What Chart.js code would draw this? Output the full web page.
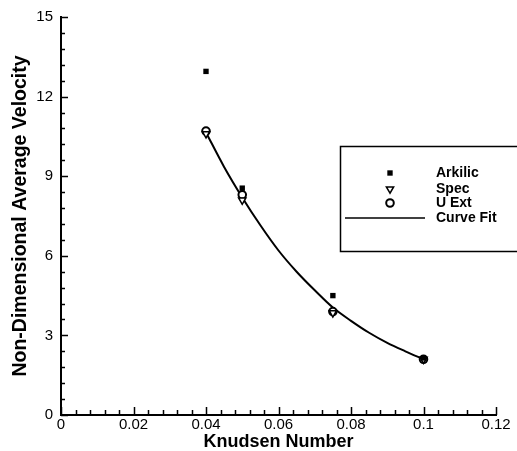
<!DOCTYPE html>
<html>
<head>
<meta charset="utf-8">
<script src="https://cdn.jsdelivr.net/npm/chart.js@4/dist/chart.umd.min.js"></script>
<style>
  html, body { margin: 0; padding: 0; background: #fff; }
  #wrap { width: 517px; height: 451px; }
</style>
</head>
<body>
<div id="wrap"><canvas id="c" width="517" height="451"></canvas></div>
<script>
// Knudsen numbers of the simulated cases
const knudsen = [0.04, 0.05, 0.075, 0.1];
// Non-dimensional average velocity per model
const arkilic = [12.95, 8.55, 4.5, 2.15];
const spec = [10.6, 8.1, 3.85, 2.1];
const uExt = [10.7, 8.3, 3.9, 2.1];
// Curve fit through the computed velocities
const fitKn = [0.04, 0.045, 0.05, 0.055, 0.06, 0.065, 0.07, 0.075, 0.08, 0.085, 0.09, 0.095, 0.1];
const fitVel = [10.65, 9.35, 8.2, 7.15, 6.2, 5.4, 4.7, 4.05, 3.55, 3.1, 2.72, 2.4, 2.1];
// Axis ticks
const xTicks = [0, 0.02, 0.04, 0.06, 0.08, 0.1, 0.12];
const yTicks = [0, 3, 6, 9, 12, 15];
const legendLabels = ['Arkilic', 'Spec', 'U Ext', 'Curve Fit'];

const FONT = '"Liberation Sans", Arial, Helvetica, sans-serif';
const pairs = (xs, ys) => xs.map((x, i) => ({ x, y: ys[i] }));

// Inward major/minor tick marks on the left and bottom axes
const innerTicks = {
  id: 'innerTicks',
  afterDraw(chart) {
    const { ctx, scales: { x, y } } = chart;
    ctx.save();
    ctx.strokeStyle = '#000';
    ctx.lineWidth = 1.5;
    ctx.beginPath();
    for (let i = 0; i <= 30; i++) {
      const px = Math.round(x.getPixelForValue(i * 0.004)) + 0.5;
      const len = i % 5 === 0 ? 8 : 5;
      ctx.moveTo(px, y.bottom);
      ctx.lineTo(px, y.bottom - len);
    }
    for (let i = 0; i <= 25; i++) {
      const py = Math.round(y.getPixelForValue(i * 0.6)) + 0.5;
      const len = i % 5 === 0 ? 7 : 4;
      ctx.moveTo(x.left, py);
      ctx.lineTo(x.left + len, py);
    }
    ctx.stroke();
    ctx.restore();
  }
};

// Boxed legend in the upper right of the plot
const boxLegend = {
  id: 'boxLegend',
  afterDraw(chart) {
    const { ctx } = chart;
    const left = 340, top = 146, bottom = 251;
    const mx = 390, tx = 436;
    const rows = [173, 189, 203, 218];
    ctx.save();
    ctx.strokeStyle = '#000';
    ctx.lineWidth = 1.5;
    ctx.fillStyle = '#fff';
    ctx.fillRect(left, top, 530 - left, bottom - top);
    ctx.strokeRect(left + 0.5, top + 0.5, 530 - left, bottom - top);
    const ds = chart.data.datasets;
    for (let i = 0; i < 3; i++) {
      const d = ds[i];
      ctx.lineWidth = d.pointBorderWidth;
      ctx.strokeStyle = d.pointBorderColor;
      ctx.fillStyle = d.pointBackgroundColor;
      Chart.helpers.drawPoint(ctx, {
        pointStyle: d.pointStyle,
        rotation: d.pointRotation || 0,
        radius: d.pointRadius,
        borderWidth: d.pointBorderWidth
      }, mx, rows[i]);
    }
    ctx.lineWidth = 1.5;
    ctx.strokeStyle = '#000';
    ctx.beginPath();
    ctx.moveTo(345, rows[3]);
    ctx.lineTo(425, rows[3]);
    ctx.stroke();
    ctx.fillStyle = '#000';
    ctx.font = 'bold 14px ' + FONT;
    ctx.textBaseline = 'middle';
    ctx.textAlign = 'left';
    legendLabels.forEach((t, i) => ctx.fillText(t, tx, rows[i]));
    ctx.restore();
  }
};

new Chart(document.getElementById('c'), {
  type: 'scatter',
  data: {
    datasets: [
      {
        label: legendLabels[0],
        data: pairs(knudsen, arkilic),
        pointStyle: 'rect',
        pointRadius: 3.8,
        pointBorderWidth: 0,
        pointBackgroundColor: '#000',
        pointBorderColor: '#000',
        showLine: false
      },
      {
        label: legendLabels[1],
        data: pairs(knudsen, spec),
        pointStyle: 'triangle',
        pointRotation: 180,
        rotation: 180,
        pointRadius: 4.2,
        pointBorderWidth: 1.5,
        pointBackgroundColor: '#fff',
        pointBorderColor: '#000',
        showLine: false
      },
      {
        label: legendLabels[2],
        data: pairs(knudsen, uExt),
        pointStyle: 'circle',
        pointRadius: 3.8,
        pointBorderWidth: 2,
        pointBackgroundColor: '#fff',
        pointBorderColor: '#000',
        showLine: false
      },
      {
        label: legendLabels[3],
        data: pairs(fitKn, fitVel),
        showLine: true,
        pointRadius: 0,
        borderColor: '#000',
        borderWidth: 2,
        cubicInterpolationMode: 'monotone',
        fill: false
      }
    ]
  },
  options: {
    responsive: false,
    animation: false,
    devicePixelRatio: 1,
    layout: { padding: { left: 0, right: 21, top: 17, bottom: 0 } },
    plugins: { legend: { display: false }, tooltip: { enabled: false } },
    scales: {
      x: {
        type: 'linear',
        min: 0,
        max: 0.12,
        afterFit: s => { s.height = 36; },
        afterBuildTicks: s => { s.ticks = xTicks.map(v => ({ value: v })); },
        grid: { display: false, drawTicks: false },
        border: { display: true, color: '#000', width: 2 },
        ticks: {
          color: '#000',
          padding: 1,
          maxRotation: 0,
          autoSkip: false,
          font: { family: FONT, size: 15 },
          callback: v => String(parseFloat(v.toFixed(3)))
        },
        title: {
          display: true,
          text: 'Knudsen Number',
          color: '#000',
          padding: { top: 0, bottom: 0 },
          font: { family: FONT, size: 18, weight: 'bold', lineHeight: 1 }
        }
      },
      y: {
        type: 'linear',
        min: 0,
        max: 15,
        afterFit: s => { s.width = 61; },
        afterBuildTicks: s => { s.ticks = yTicks.map(v => ({ value: v })); },
        grid: { display: false, drawTicks: false },
        border: { display: true, color: '#000', width: 2 },
        ticks: {
          color: '#000',
          padding: 8,
          autoSkip: false,
          font: { family: FONT, size: 15 }
        },
        title: {
          display: true,
          text: 'Non-Dimensional Average Velocity',
          color: '#000',
          padding: { top: 11, bottom: 0 },
          font: { family: FONT, size: 19.5, weight: 'bold', lineHeight: 1 }
        }
      }
    }
  },
  plugins: [innerTicks, boxLegend]
});
</script>
</body>
</html>
